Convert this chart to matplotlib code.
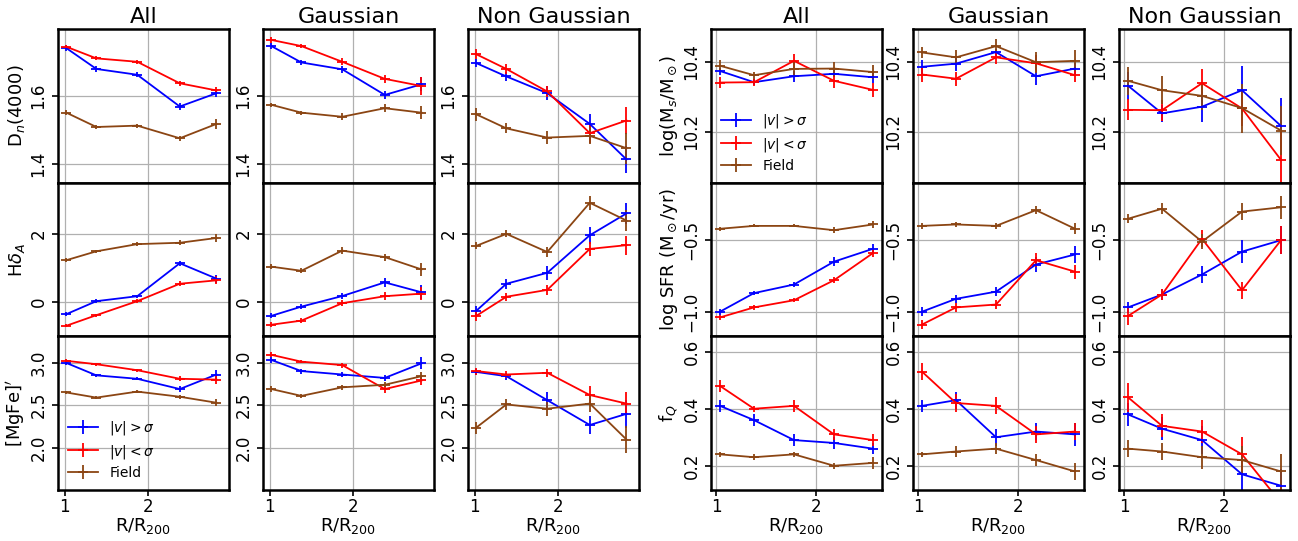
import matplotlib
matplotlib.use("Agg")
import matplotlib.pyplot as plt
import numpy as np

# ---------------- data ----------------
samples = ["All", "Gaussian", "Non Gaussian"]
series_labels = [r"$|v|>\sigma$", r"$|v|<\sigma$", "Field"]

x_left = [1.02, 1.38, 1.87, 2.38, 2.82]
x_right = [1.04, 1.38, 1.78, 2.18, 2.57]

# Dn(4000)  rows: All, Gaussian, Non Gaussian
dn_hi = [[1.740, 1.679, 1.662, 1.569, 1.608], [1.746, 1.698, 1.678, 1.603, 1.634], [1.696, 1.657, 1.608, 1.518, 1.414]]
dn_hi_err = [[0.008, 0.008, 0.008, 0.010, 0.012], [0.010, 0.008, 0.010, 0.012, 0.020], [0.012, 0.012, 0.020, 0.030, 0.040]]
dn_lo = [[1.744, 1.710, 1.700, 1.637, 1.616], [1.764, 1.746, 1.700, 1.650, 1.629], [1.722, 1.679, 1.613, 1.491, 1.528]]
dn_lo_err = [[0.006, 0.006, 0.006, 0.008, 0.010], [0.010, 0.006, 0.010, 0.012, 0.025], [0.015, 0.015, 0.015, 0.030, 0.040]]
dn_fd = [[1.551, 1.509, 1.513, 1.476, 1.518], [1.574, 1.551, 1.539, 1.564, 1.551], [1.546, 1.505, 1.478, 1.483, 1.447]]
dn_fd_err = [[0.008, 0.005, 0.006, 0.008, 0.015], [0.006, 0.006, 0.010, 0.012, 0.020], [0.020, 0.015, 0.020, 0.025, 0.045]]

# H delta_A
hd_hi = [[-0.35, 0.03, 0.175, 1.14, 0.69], [-0.40, -0.13, 0.18, 0.58, 0.29], [-0.25, 0.54, 0.86, 1.96, 2.60]]
hd_hi_err = [[0.06, 0.05, 0.05, 0.08, 0.12], [0.07, 0.08, 0.10, 0.14, 0.20], [0.15, 0.15, 0.20, 0.25, 0.30]]
hd_lo = [[-0.69, -0.38, 0.03, 0.54, 0.64], [-0.66, -0.54, -0.03, 0.175, 0.25], [-0.40, 0.16, 0.36, 1.56, 1.67]]
hd_lo_err = [[0.05, 0.04, 0.05, 0.07, 0.12], [0.07, 0.07, 0.09, 0.12, 0.20], [0.15, 0.12, 0.15, 0.20, 0.28]]
hd_fd = [[1.23, 1.49, 1.70, 1.74, 1.88], [1.04, 0.92, 1.51, 1.32, 0.96], [1.65, 2.00, 1.47, 2.91, 2.39]]
hd_fd_err = [[0.05, 0.05, 0.06, 0.07, 0.13], [0.08, 0.07, 0.10, 0.10, 0.18], [0.10, 0.10, 0.15, 0.20, 0.30]]

# [MgFe]'
mg_hi = [[2.995, 2.85, 2.81, 2.69, 2.86], [3.03, 2.90, 2.86, 2.82, 2.99], [2.89, 2.84, 2.56, 2.27, 2.40]]
mg_hi_err = [[0.02, 0.015, 0.02, 0.03, 0.05], [0.03, 0.03, 0.03, 0.04, 0.07], [0.04, 0.04, 0.10, 0.11, 0.16]]
mg_lo = [[3.02, 2.98, 2.91, 2.81, 2.80], [3.09, 3.01, 2.97, 2.69, 2.79], [2.90, 2.86, 2.88, 2.62, 2.52]]
mg_lo_err = [[0.02, 0.015, 0.02, 0.03, 0.05], [0.03, 0.02, 0.03, 0.05, 0.05], [0.04, 0.04, 0.05, 0.10, 0.13]]
mg_fd = [[2.65, 2.59, 2.66, 2.60, 2.53], [2.69, 2.61, 2.71, 2.74, 2.84], [2.24, 2.51, 2.46, 2.52, 2.10]]
mg_fd_err = [[0.02, 0.015, 0.02, 0.025, 0.04], [0.03, 0.02, 0.03, 0.03, 0.05], [0.07, 0.06, 0.08, 0.10, 0.16]]

# log(Ms/Msun)
ms_hi = [[10.373, 10.341, 10.358, 10.365, 10.355], [10.385, 10.394, 10.427, 10.358, 10.380], [10.331, 10.252, 10.271, 10.318, 10.216]]
ms_hi_err = [[0.010, 0.008, 0.015, 0.010, 0.015], [0.020, 0.020, 0.010, 0.025, 0.015], [0.040, 0.025, 0.045, 0.070, 0.080]]
ms_lo = [[10.340, 10.341, 10.402, 10.345, 10.319], [10.363, 10.351, 10.412, 10.395, 10.361], [10.262, 10.261, 10.338, 10.266, 10.119]]
ms_lo_err = [[0.015, 0.010, 0.020, 0.020, 0.020], [0.020, 0.020, 0.020, 0.025, 0.020], [0.030, 0.030, 0.040, 0.050, 0.080]]
ms_fd = [[10.388, 10.361, 10.379, 10.380, 10.370], [10.426, 10.412, 10.444, 10.398, 10.402], [10.345, 10.318, 10.302, 10.267, 10.203]]
ms_fd_err = [[0.015, 0.010, 0.020, 0.020, 0.020], [0.015, 0.020, 0.020, 0.030, 0.030], [0.040, 0.040, 0.040, 0.070, 0.070]]

# log SFR
sfr_hi = [[-1.00, -0.87, -0.81, -0.65, -0.56], [-1.00, -0.91, -0.86, -0.67, -0.60], [-0.97, -0.88, -0.74, -0.58, -0.50]]
sfr_hi_err = [[0.02, 0.015, 0.02, 0.03, 0.03], [0.03, 0.03, 0.03, 0.05, 0.06], [0.04, 0.04, 0.06, 0.08, 0.10]]
sfr_lo = [[-1.04, -0.97, -0.92, -0.78, -0.59], [-1.09, -0.97, -0.95, -0.64, -0.72], [-1.03, -0.88, -0.49, -0.85, -0.50]]
sfr_lo_err = [[0.015, 0.015, 0.015, 0.02, 0.03], [0.03, 0.03, 0.03, 0.05, 0.05], [0.06, 0.04, 0.06, 0.06, 0.10]]
sfr_fd = [[-0.42, -0.40, -0.40, -0.43, -0.39], [-0.40, -0.39, -0.40, -0.29, -0.42], [-0.35, -0.28, -0.51, -0.30, -0.27]]
sfr_fd_err = [[0.015, 0.01, 0.01, 0.02, 0.025], [0.02, 0.02, 0.02, 0.03, 0.04], [0.03, 0.04, 0.05, 0.06, 0.08]]

# f_Q
fq_hi = [[0.41, 0.36, 0.29, 0.28, 0.26], [0.41, 0.43, 0.30, 0.32, 0.31], [0.38, 0.33, 0.29, 0.17, 0.13]]
fq_hi_err = [[0.02, 0.02, 0.02, 0.02, 0.02], [0.02, 0.03, 0.03, 0.03, 0.04], [0.04, 0.04, 0.05, 0.06, 0.06]]
fq_lo = [[0.48, 0.40, 0.41, 0.31, 0.29], [0.53, 0.42, 0.41, 0.31, 0.32], [0.44, 0.34, 0.32, 0.24, 0.07]]
fq_lo_err = [[0.02, 0.01, 0.02, 0.02, 0.02], [0.03, 0.03, 0.03, 0.03, 0.03], [0.05, 0.04, 0.04, 0.06, 0.06]]
fq_fd = [[0.24, 0.23, 0.24, 0.20, 0.21], [0.24, 0.25, 0.26, 0.22, 0.18], [0.26, 0.25, 0.23, 0.22, 0.18]]
fq_fd_err = [[0.01, 0.01, 0.01, 0.01, 0.02], [0.01, 0.02, 0.02, 0.02, 0.03], [0.03, 0.03, 0.04, 0.05, 0.06]]

# ---------------- layout ----------------
W, H = 1298, 541
fig = plt.figure(figsize=(W / 100, H / 100), dpi=100)

col_left_px = [58, 263, 468, 711, 913, 1119]
ax_w_px = 171
rows_px = [(29, 183), (183, 336), (336, 490)]

colors = ["blue", "red", "#8B4513"]

left_rows = [
    (dn_hi, dn_hi_err, dn_lo, dn_lo_err, dn_fd, dn_fd_err, r"D$_n$(4000)", (1.345, 1.796), [1.4, 1.6], "{:.1f}"),
    (hd_hi, hd_hi_err, hd_lo, hd_lo_err, hd_fd, hd_fd_err, r"H$\delta_A$", (-0.99, 3.49), [0, 2], "{:.0f}"),
    (mg_hi, mg_hi_err, mg_lo, mg_lo_err, mg_fd, mg_fd_err, r"[MgFe]$'$", (1.51, 3.31), [2.0, 2.5, 3.0], "{:.1f}"),
]
right_rows = [
    (ms_hi, ms_hi_err, ms_lo, ms_lo_err, ms_fd, ms_fd_err, r"log(M$_s$/M$_\odot$)", (10.053, 10.493), [10.2, 10.4], "{:.1f}"),
    (sfr_hi, sfr_hi_err, sfr_lo, sfr_lo_err, sfr_fd, sfr_fd_err, r"log SFR (M$_\odot$/yr)", (-1.17, -0.10), [-1.0, -0.5], "{:.1f}"),
    (fq_hi, fq_hi_err, fq_lo, fq_lo_err, fq_fd, fq_fd_err, r"f$_Q$", (0.115, 0.655), [0.2, 0.4, 0.6], "{:.1f}"),
]


def make_axes(cpx, rpx):
    l = cpx / W
    b = 1 - rpx[1] / H
    h = (rpx[1] - rpx[0]) / H
    return fig.add_axes([l, b, ax_w_px / W, h])


for group, (rows, xs, xlim) in enumerate([(left_rows, x_left, (0.92, 2.97)),
                                          (right_rows, x_right, (0.95, 2.66))]):
    for r, row in enumerate(rows):
        hi, hie, lo, loe, fd, fde, ylabel, ylim, yt, fmt = row
        for c in range(3):
            ax = make_axes(col_left_px[group * 3 + c], rows_px[r])
            for k, (vals, errs) in enumerate([(hi, hie), (lo, loe), (fd, fde)]):
                ax.errorbar(xs, vals[c], yerr=errs[c], color=colors[k], lw=1.3,
                            elinewidth=1.3, marker="_", ms=7, mew=1.3,
                            label=series_labels[k])
            ax.set_xlim(*xlim)
            ax.set_ylim(*ylim)
            ax.set_xticks([1, 2])
            ax.set_yticks(yt)
            ax.set_yticklabels([fmt.format(v).replace("-", "\u2212") for v in yt],
                               rotation=90, va="center")
            ax.grid(True, color="#b0b0b0", lw=0.9)
            ax.set_axisbelow(True)
            for s in ax.spines.values():
                s.set_linewidth(1.8)
            ax.tick_params(labelsize=12, width=1.2, length=4)
            ax.tick_params(axis="x", pad=2)
            if r < 2:
                ax.tick_params(labelbottom=False)
            else:
                ax.set_xlabel(r"R/R$_{200}$", fontsize=13, labelpad=0)
            if r == 0:
                ax.set_title(samples[c], fontsize=16, pad=4)
            if c == 0:
                ax.set_ylabel(ylabel, fontsize=13, labelpad=2)
            if c == 0 and ((group == 0 and r == 2) or (group == 1 and r == 0)):
                ax.legend(loc="lower left", frameon=False, fontsize=10,
                          handlelength=2.2, borderaxespad=0.3, labelspacing=0.4)

fig.savefig("out.png", dpi=100)
